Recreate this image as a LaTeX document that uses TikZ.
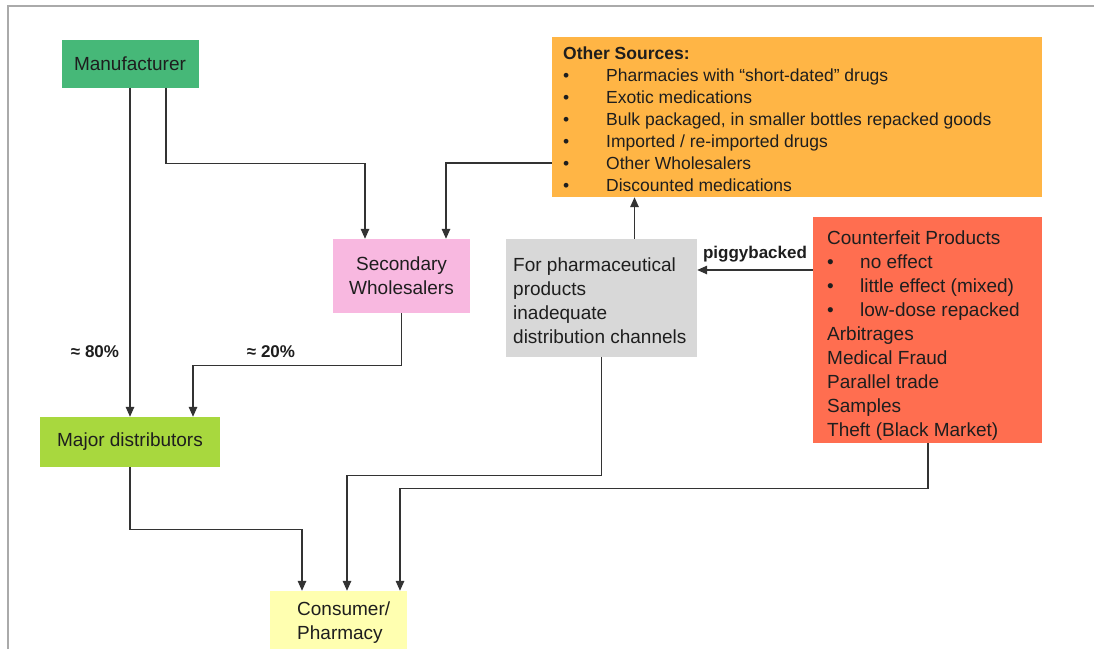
\documentclass[tikz,border=0pt]{standalone}
\usepackage{fontspec}
\setmainfont{Liberation Sans}
\usetikzlibrary{arrows.meta}
\definecolor{mangreen}{HTML}{46B878}
\definecolor{secpink}{HTML}{F8B8E0}
\definecolor{majgreen}{HTML}{A8D83E}
\definecolor{conyellow}{HTML}{FFFFB0}
\definecolor{greybox}{HTML}{D8D8D8}
\definecolor{orangebox}{HTML}{FFB545}
\definecolor{redbox}{HTML}{FF6E50}
\definecolor{linecol}{HTML}{333333}
\definecolor{framecol}{HTML}{AAAAAA}
\definecolor{txt}{HTML}{1E1E1E}
\newcommand\mybul[1]{\makebox[#1][l]{\textbullet}}
\begin{document}
\begin{tikzpicture}[x=1pt,y=-1pt,
  boxbase/.style={rectangle, inner sep=0pt, text=txt},
  bigfont/.style={font=\fontsize{19}{24}\selectfont},
  listfont/.style={font=\fontsize{17.5}{22}\selectfont},
  lblfont/.style={font=\fontsize{17}{20}\selectfont\bfseries, text=txt},
  arr/.style={draw=linecol, line width=1.4pt, -{Triangle[length=10pt,width=8.5pt]}},
]
\useasboundingbox (0,0) rectangle (1094,649);
\fill[white] (0,0) rectangle (1094,649);
% frame
\draw[framecol, line width=1.5pt] (8,649) -- (8,6) -- (1094,6);

% nodes
\node[boxbase, bigfont, fill=mangreen, minimum width=137pt, minimum height=48pt] (man) at (130,63.5) {Manufacturer};
\node[boxbase, bigfont, fill=secpink, minimum width=137pt, minimum height=74pt, align=center] (sec) at (401.5,276) {Secondary\\Wholesalers};
\node[boxbase, bigfont, fill=majgreen, minimum width=180pt, minimum height=50pt] (maj) at (130,442) {Major distributors};
\node[boxbase, fill=conyellow, minimum height=58pt, minimum width=137pt] (con) at (338.5,620) {};
\node[bigfont, text=txt, inner sep=0pt, anchor=west, align=left] (contxt) at (297,623) {Consumer/\\Pharmacy};
\node[boxbase, fill=greybox, minimum height=118pt, minimum width=191pt] (grey) at (601.5,298) {};
\node[bigfont, text=txt, inner sep=0pt, anchor=west, align=left] (greytxt) at (513,301) {For pharmaceutical\\products\\inadequate\\distribution channels};
\node[boxbase, fill=orangebox, minimum height=160pt, minimum width=490pt] (orange) at (797,117) {};
\node[listfont, text=txt, inner sep=0pt, anchor=west, align=left] (orangetxt) at (563,119) {\textbf{Other Sources:}\\
\mybul{43pt}Pharmacies with “short-dated” drugs\\
\mybul{43pt}Exotic medications\\
\mybul{43pt}Bulk packaged, in smaller bottles repacked goods\\
\mybul{43pt}Imported / re-imported drugs\\
\mybul{43pt}Other Wholesalers\\
\mybul{43pt}Discounted medications};
\node[boxbase, fill=redbox, minimum height=226pt, minimum width=229pt] (red) at (927.5,330) {};
\node[bigfont, text=txt, inner sep=0pt, anchor=west, align=left] (redtxt) at (827,336) {Counterfeit Products\\
\mybul{33pt}no effect\\
\mybul{33pt}little effect (mixed)\\
\mybul{33pt}low-dose repacked\\
Arbitrages\\
Medical Fraud\\
Parallel trade\\
Samples\\
Theft (Black Market)};

% labels
\node[lblfont] (p80) at (95,352) {≈ 80\%};
\node[lblfont] (p20) at (271,352) {≈ 20\%};

% connectors
\draw[arr] (man.south) -- (maj.north);
\draw[arr] ([xshift=36pt]man.south) -- ++(0,75.5) -| ([xshift=-36.5pt]sec.north);
\draw[arr] ([yshift=-46pt]orange.west) -| ([xshift=44.5pt]sec.north);
\draw[arr] (sec.south) -- ++(0,52) -| ([xshift=63pt]maj.north);
\draw[arr] (maj.south) -- ++(0,62) -| ([xshift=-36.5pt]con.north);
\draw[arr] (grey.south) -- ++(0,118) -| ([xshift=8.5pt]con.north);
\draw[arr] ([xshift=0.5pt]red.south) -- ++(0,45) -| ([xshift=61.5pt]con.north);
\draw[arr] ([xshift=33pt]grey.north) -- ([xshift=33pt]grey.north |- orange.south);
\draw[arr] ([yshift=60pt]red.west) -- ([yshift=60pt]red.west -| grey.east)
  node[midway, above=4pt, lblfont] (pig) {piggybacked};
\end{tikzpicture}
\end{document}
